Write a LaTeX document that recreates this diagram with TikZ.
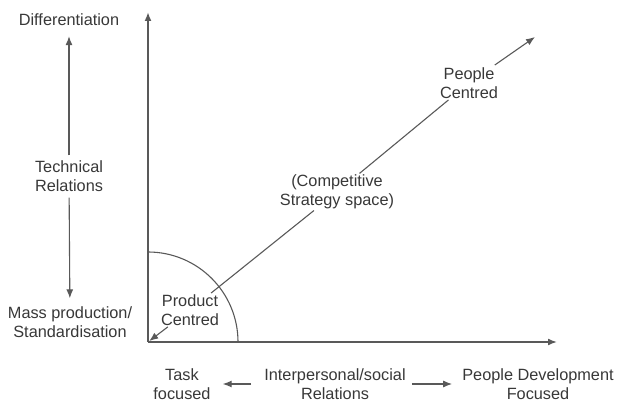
\documentclass[tikz,border=0pt]{standalone}
\usepackage{fontspec}
\setmainfont{Liberation Sans}
\usepackage{tikz}
\usetikzlibrary{positioning,arrows.meta}
\usepackage{xcolor}

\begin{document}
\begin{tikzpicture} [x=1pt, y=1pt, >={Latex[length=9pt,width=7pt]},
	lbl/.style={align=center, inner sep=0pt, text=black!78, font=\fontsize{16.3}{19}\selectfont},
	ln/.style={draw=black!65, line width=1.1pt}]
										\useasboundingbox (0, 0) rectangle (617, 403);
										\coordinate (o) at (148, 61);
										\coordinate (ytip) at (148, 391);
										\coordinate (xtip) at (557, 61);
										\coordinate (dtip) at (535, 366);
										% axes
										\draw [ln] [line width=2pt] [->] (o)--(ytip);
										\draw [ln] [line width=1.6pt] [->] (o)--(xtip);
										\draw [ln] (148, 151) arc (90:0:90);
										% vertical scale
										\node [lbl] (diff) at (69, 383) {Differentiation};
										\node [lbl] (tech) at (69, 227) {Technical\\Relations};
										\node [lbl] (mass) at (70, 81) {Mass production/\\Standardisation};
										\draw [ln] [->] [shorten <=5pt, shorten >=10pt] (tech)--(diff);
										\draw [ln] [->] [shorten <=6pt, shorten >=8pt] (tech)--(mass);
										% horizontal scale
										\node [lbl] (task) at (182, 19) {Task\\focused};
										\node [lbl] (inter) at (335, 19) {Interpersonal/social\\Relations};
										\node [lbl] (pdev) at (538, 19) {People Development\\Focused};
										\draw [ln] [->] [shorten <=13pt, shorten >=12pt] (inter)--(task);
										\draw [ln] [->] [shorten <=6pt, shorten >=10pt] (inter)--(pdev);
										% strategy diagonal
										\node [lbl] (prod) at (190, 93) {Product\\Centred};
										\node [lbl] (comp) at (337, 211) {(Competitive\\Strategy space)};
										\node [lbl] (peop) at (469, 320) {People\\Centred};
										\draw [ln] [<-] [shorten <=1.5pt, shorten >=2pt] (o)--(prod);
										\draw [ln] [shorten <=2pt, shorten >=2pt] (prod)--(comp);
										\draw [ln] [shorten <=2pt, shorten >=2pt] (comp)--(peop);
										\draw [ln] [->] [shorten <=4pt] (peop)--(dtip);
									\end{tikzpicture}
\end{document}
